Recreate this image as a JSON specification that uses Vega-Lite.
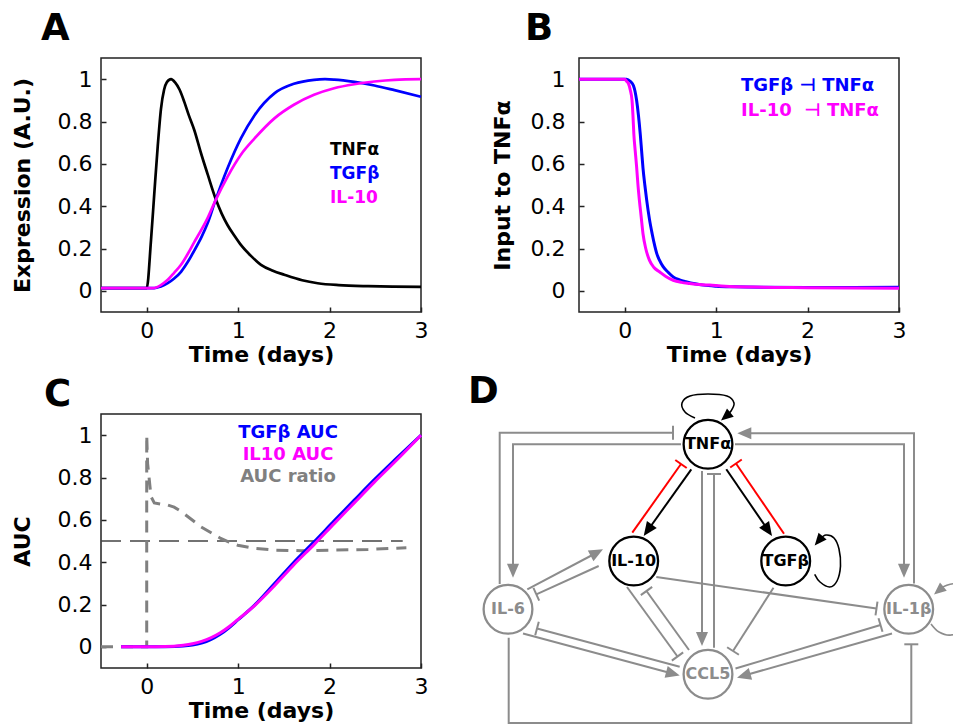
{
  "$schema": "https://vega.github.io/schema/vega-lite/v6.json",
  "background": "white",
  "padding": {"left": 10, "top": 9, "right": 0, "bottom": 0},
  "config": {
    "font": "DejaVu Sans",
    "view": {"stroke": "#222222", "strokeWidth": 1.5},
    "axis": {
      "grid": false, "domain": false,
      "labelFont": "DejaVu Sans", "labelFontSize": 22, "labelColor": "#000000",
      "titleFont": "DejaVu Sans", "titleFontSize": 22, "titleFontWeight": "bold", "titleColor": "#000000",
      "tickSize": -5, "tickColor": "#222222", "tickWidth": 1.5, "labelFlush": false
    },
    "axisX": {"labelPadding": 13, "titlePadding": 3},
    "axisY": {"labelPadding": 14, "titlePadding": 23},
    "title": {"font": "DejaVu Sans", "fontSize": 37, "fontWeight": "bold", "anchor": "start", "frame": "group", "color": "#000000"},
    "legend": {"labelFont": "DejaVu Sans", "labelFontWeight": "bold", "symbolSize": 0, "symbolStrokeWidth": 0, "symbolOpacity": 0, "labelOffset": 0, "labelLimit": 400, "padding": 0}
  },
  "datasets": {
    "expr": [
      {"t": -0.5, "v": 0.013, "s": "TNFα"}, {"t": 0, "v": 0.013, "s": "TNFα"}, {"t": 0.047, "v": 0.24, "s": "TNFα"}, {"t": 0.083, "v": 0.46, "s": "TNFα"}, {"t": 0.12, "v": 0.68, "s": "TNFα"}, {"t": 0.156, "v": 0.86, "s": "TNFα"}, {"t": 0.19, "v": 0.95, "s": "TNFα"}, {"t": 0.22, "v": 0.985, "s": "TNFα"}, {"t": 0.266, "v": 1.0, "s": "TNFα"}, {"t": 0.31, "v": 0.985, "s": "TNFα"}, {"t": 0.36, "v": 0.95, "s": "TNFα"}, {"t": 0.41, "v": 0.894, "s": "TNFα"}, {"t": 0.46, "v": 0.83, "s": "TNFα"}, {"t": 0.52, "v": 0.76, "s": "TNFα"}, {"t": 0.594, "v": 0.65, "s": "TNFα"}, {"t": 0.667, "v": 0.55, "s": "TNFα"}, {"t": 0.758, "v": 0.43, "s": "TNFα"}, {"t": 0.82, "v": 0.365, "s": "TNFα"}, {"t": 0.885, "v": 0.31, "s": "TNFα"}, {"t": 0.96, "v": 0.26, "s": "TNFα"}, {"t": 1.03, "v": 0.217, "s": "TNFα"}, {"t": 1.14, "v": 0.165, "s": "TNFα"}, {"t": 1.25, "v": 0.123, "s": "TNFα"}, {"t": 1.38, "v": 0.095, "s": "TNFα"}, {"t": 1.505, "v": 0.076, "s": "TNFα"}, {"t": 1.7, "v": 0.05, "s": "TNFα"}, {"t": 1.87, "v": 0.036, "s": "TNFα"}, {"t": 2.1, "v": 0.027, "s": "TNFα"}, {"t": 2.42, "v": 0.022, "s": "TNFα"}, {"t": 2.7, "v": 0.02, "s": "TNFα"}, {"t": 3.0, "v": 0.019, "s": "TNFα"},
      {"t": -0.5, "v": 0.013, "s": "TGFβ"}, {"t": 0.083, "v": 0.013, "s": "TGFβ"}, {"t": 0.15, "v": 0.02, "s": "TGFβ"}, {"t": 0.23, "v": 0.036, "s": "TGFβ"}, {"t": 0.3, "v": 0.058, "s": "TGFβ"}, {"t": 0.375, "v": 0.09, "s": "TGFβ"}, {"t": 0.45, "v": 0.137, "s": "TGFβ"}, {"t": 0.52, "v": 0.19, "s": "TGFβ"}, {"t": 0.6, "v": 0.255, "s": "TGFβ"}, {"t": 0.667, "v": 0.32, "s": "TGFβ"}, {"t": 0.75, "v": 0.425, "s": "TGFβ"}, {"t": 0.885, "v": 0.58, "s": "TGFβ"}, {"t": 1.03, "v": 0.72, "s": "TGFβ"}, {"t": 1.18, "v": 0.83, "s": "TGFβ"}, {"t": 1.4, "v": 0.934, "s": "TGFβ"}, {"t": 1.61, "v": 0.978, "s": "TGFβ"}, {"t": 1.83, "v": 0.997, "s": "TGFβ"}, {"t": 1.95, "v": 1.0, "s": "TGFβ"}, {"t": 2.05, "v": 0.998, "s": "TGFβ"}, {"t": 2.27, "v": 0.987, "s": "TGFβ"}, {"t": 2.49, "v": 0.97, "s": "TGFβ"}, {"t": 2.71, "v": 0.948, "s": "TGFβ"}, {"t": 3.0, "v": 0.917, "s": "TGFβ"},
      {"t": -0.5, "v": 0.013, "s": "IL-10"}, {"t": 0.07, "v": 0.013, "s": "IL-10"}, {"t": 0.15, "v": 0.026, "s": "IL-10"}, {"t": 0.23, "v": 0.052, "s": "IL-10"}, {"t": 0.3, "v": 0.085, "s": "IL-10"}, {"t": 0.375, "v": 0.123, "s": "IL-10"}, {"t": 0.45, "v": 0.175, "s": "IL-10"}, {"t": 0.52, "v": 0.23, "s": "IL-10"}, {"t": 0.6, "v": 0.29, "s": "IL-10"}, {"t": 0.667, "v": 0.345, "s": "IL-10"}, {"t": 0.75, "v": 0.425, "s": "IL-10"}, {"t": 0.885, "v": 0.54, "s": "IL-10"}, {"t": 1.03, "v": 0.643, "s": "IL-10"}, {"t": 1.18, "v": 0.72, "s": "IL-10"}, {"t": 1.4, "v": 0.816, "s": "IL-10"}, {"t": 1.61, "v": 0.879, "s": "IL-10"}, {"t": 1.83, "v": 0.926, "s": "IL-10"}, {"t": 2.05, "v": 0.957, "s": "IL-10"}, {"t": 2.27, "v": 0.976, "s": "IL-10"}, {"t": 2.49, "v": 0.989, "s": "IL-10"}, {"t": 2.71, "v": 0.997, "s": "IL-10"}, {"t": 3.0, "v": 1.0, "s": "IL-10"}
    ],
    "input": [
      {"t": -0.5, "v": 1.0, "s": "TGFβ"}, {"t": 0.02, "v": 1.0, "s": "TGFβ"}, {"t": 0.06, "v": 0.99, "s": "TGFβ"}, {"t": 0.095, "v": 0.97, "s": "TGFβ"}, {"t": 0.13, "v": 0.9, "s": "TGFβ"}, {"t": 0.15, "v": 0.83, "s": "TGFβ"}, {"t": 0.17, "v": 0.74, "s": "TGFβ"}, {"t": 0.185, "v": 0.66, "s": "TGFβ"}, {"t": 0.2, "v": 0.58, "s": "TGFβ"}, {"t": 0.22, "v": 0.5, "s": "TGFβ"}, {"t": 0.24, "v": 0.43, "s": "TGFβ"}, {"t": 0.27, "v": 0.34, "s": "TGFβ"}, {"t": 0.3, "v": 0.27, "s": "TGFβ"}, {"t": 0.33, "v": 0.21, "s": "TGFβ"}, {"t": 0.35, "v": 0.177, "s": "TGFβ"}, {"t": 0.38, "v": 0.145, "s": "TGFβ"}, {"t": 0.42, "v": 0.114, "s": "TGFβ"}, {"t": 0.47, "v": 0.09, "s": "TGFβ"}, {"t": 0.53, "v": 0.066, "s": "TGFβ"}, {"t": 0.6, "v": 0.052, "s": "TGFβ"}, {"t": 0.67, "v": 0.043, "s": "TGFβ"}, {"t": 0.77, "v": 0.033, "s": "TGFβ"}, {"t": 0.86, "v": 0.027, "s": "TGFβ"}, {"t": 1.0, "v": 0.022, "s": "TGFβ"}, {"t": 1.2, "v": 0.019, "s": "TGFβ"}, {"t": 1.5, "v": 0.017, "s": "TGFβ"}, {"t": 2.0, "v": 0.016, "s": "TGFβ"}, {"t": 2.5, "v": 0.016, "s": "TGFβ"}, {"t": 3.0, "v": 0.017, "s": "TGFβ"},
      {"t": -0.5, "v": 1.0, "s": "IL-10"}, {"t": 0.0, "v": 1.0, "s": "IL-10"}, {"t": 0.02, "v": 0.99, "s": "IL-10"}, {"t": 0.04, "v": 0.98, "s": "IL-10"}, {"t": 0.06, "v": 0.95, "s": "IL-10"}, {"t": 0.08, "v": 0.9, "s": "IL-10"}, {"t": 0.09, "v": 0.83, "s": "IL-10"}, {"t": 0.1, "v": 0.74, "s": "IL-10"}, {"t": 0.115, "v": 0.66, "s": "IL-10"}, {"t": 0.13, "v": 0.587, "s": "IL-10"}, {"t": 0.145, "v": 0.5, "s": "IL-10"}, {"t": 0.16, "v": 0.43, "s": "IL-10"}, {"t": 0.18, "v": 0.35, "s": "IL-10"}, {"t": 0.2, "v": 0.27, "s": "IL-10"}, {"t": 0.23, "v": 0.2, "s": "IL-10"}, {"t": 0.27, "v": 0.145, "s": "IL-10"}, {"t": 0.32, "v": 0.11, "s": "IL-10"}, {"t": 0.38, "v": 0.09, "s": "IL-10"}, {"t": 0.45, "v": 0.068, "s": "IL-10"}, {"t": 0.53, "v": 0.05, "s": "IL-10"}, {"t": 0.62, "v": 0.04, "s": "IL-10"}, {"t": 0.71, "v": 0.035, "s": "IL-10"}, {"t": 0.82, "v": 0.03, "s": "IL-10"}, {"t": 0.93, "v": 0.027, "s": "IL-10"}, {"t": 1.1, "v": 0.022, "s": "IL-10"}, {"t": 1.4, "v": 0.018, "s": "IL-10"}, {"t": 2.0, "v": 0.015, "s": "IL-10"}, {"t": 2.5, "v": 0.013, "s": "IL-10"}, {"t": 3.0, "v": 0.012, "s": "IL-10"}
    ],
    "auc": [
      {"t": -0.28, "v": 0, "s": "TGFβ AUC"}, {"t": 0, "v": 0, "s": "TGFβ AUC"}, {"t": 0.2, "v": 0.0005, "s": "TGFβ AUC"}, {"t": 0.4, "v": 0.004, "s": "TGFβ AUC"}, {"t": 0.5, "v": 0.009, "s": "TGFβ AUC"}, {"t": 0.6, "v": 0.018, "s": "TGFβ AUC"}, {"t": 0.7, "v": 0.034, "s": "TGFβ AUC"}, {"t": 0.8, "v": 0.058, "s": "TGFβ AUC"}, {"t": 0.9, "v": 0.09, "s": "TGFβ AUC"}, {"t": 1.0, "v": 0.128, "s": "TGFβ AUC"}, {"t": 1.18, "v": 0.197, "s": "TGFβ AUC"}, {"t": 1.4, "v": 0.3, "s": "TGFβ AUC"}, {"t": 1.61, "v": 0.4, "s": "TGFβ AUC"}, {"t": 1.83, "v": 0.496, "s": "TGFβ AUC"}, {"t": 2.05, "v": 0.595, "s": "TGFβ AUC"}, {"t": 2.27, "v": 0.693, "s": "TGFβ AUC"}, {"t": 2.49, "v": 0.79, "s": "TGFβ AUC"}, {"t": 2.71, "v": 0.882, "s": "TGFβ AUC"}, {"t": 3.0, "v": 1.0, "s": "TGFβ AUC"},
      {"t": -0.28, "v": 0, "s": "IL10 AUC"}, {"t": 0, "v": 0, "s": "IL10 AUC"}, {"t": 0.2, "v": 0.001, "s": "IL10 AUC"}, {"t": 0.4, "v": 0.008, "s": "IL10 AUC"}, {"t": 0.5, "v": 0.015, "s": "IL10 AUC"}, {"t": 0.6, "v": 0.026, "s": "IL10 AUC"}, {"t": 0.7, "v": 0.042, "s": "IL10 AUC"}, {"t": 0.8, "v": 0.065, "s": "IL10 AUC"}, {"t": 0.9, "v": 0.095, "s": "IL10 AUC"}, {"t": 1.0, "v": 0.13, "s": "IL10 AUC"}, {"t": 1.18, "v": 0.195, "s": "IL10 AUC"}, {"t": 1.4, "v": 0.29, "s": "IL10 AUC"}, {"t": 1.61, "v": 0.388, "s": "IL10 AUC"}, {"t": 1.83, "v": 0.483, "s": "IL10 AUC"}, {"t": 2.05, "v": 0.582, "s": "IL10 AUC"}, {"t": 2.27, "v": 0.68, "s": "IL10 AUC"}, {"t": 2.49, "v": 0.778, "s": "IL10 AUC"}, {"t": 2.71, "v": 0.872, "s": "IL10 AUC"}, {"t": 3.0, "v": 1.0, "s": "IL10 AUC"}
    ],
    "ratio": [
      {"t": -0.5, "v": 0, "s": "AUC ratio"}, {"t": 0, "v": 0, "s": "AUC ratio"}, {"t": 0, "v": 1.0, "s": "AUC ratio"}, {"t": 0.01, "v": 0.866, "s": "AUC ratio"}, {"t": 0.047, "v": 0.71, "s": "AUC ratio"}, {"t": 0.083, "v": 0.68, "s": "AUC ratio"}, {"t": 0.15, "v": 0.675, "s": "AUC ratio"}, {"t": 0.23, "v": 0.67, "s": "AUC ratio"}, {"t": 0.3, "v": 0.66, "s": "AUC ratio"}, {"t": 0.375, "v": 0.64, "s": "AUC ratio"}, {"t": 0.48, "v": 0.605, "s": "AUC ratio"}, {"t": 0.594, "v": 0.567, "s": "AUC ratio"}, {"t": 0.7, "v": 0.54, "s": "AUC ratio"}, {"t": 0.81, "v": 0.512, "s": "AUC ratio"}, {"t": 0.9, "v": 0.495, "s": "AUC ratio"}, {"t": 0.995, "v": 0.48, "s": "AUC ratio"}, {"t": 1.18, "v": 0.465, "s": "AUC ratio"}, {"t": 1.4, "v": 0.457, "s": "AUC ratio"}, {"t": 1.69, "v": 0.454, "s": "AUC ratio"}, {"t": 2.05, "v": 0.457, "s": "AUC ratio"}, {"t": 2.42, "v": 0.46, "s": "AUC ratio"}, {"t": 2.84, "v": 0.468, "s": "AUC ratio"}
    ],
    "half": [{"t": -0.5, "v": 0.5}, {"t": 2.8, "v": 0.5}],
    "nodes": [
      {"name": "TNFα", "x": 230, "y": 63.3, "tier": "core"},
      {"name": "IL-10", "x": 155.7, "y": 180, "tier": "core"},
      {"name": "TGFβ", "x": 307.7, "y": 180, "tier": "core"},
      {"name": "IL-6", "x": 30, "y": 228.3, "tier": "peripheral"},
      {"name": "IL-1β", "x": 430.7, "y": 228.3, "tier": "peripheral"},
      {"name": "CCL5", "x": 230, "y": 293.3, "tier": "peripheral"}
    ],
    "edges": [
      {"edge": "e1", "i": 0, "x": 21.7, "y": 203, "class": "peripheral"}, {"edge": "e1", "i": 1, "x": 21.7, "y": 51.7, "class": "peripheral"}, {"edge": "e1", "i": 2, "x": 195, "y": 51.7, "class": "peripheral"},
      {"edge": "e2", "i": 0, "x": 203, "y": 63.3, "class": "peripheral"}, {"edge": "e2", "i": 1, "x": 35, "y": 63.3, "class": "peripheral"}, {"edge": "e2", "i": 2, "x": 35, "y": 192, "class": "peripheral"},
      {"edge": "e3", "i": 0, "x": 436, "y": 202.5, "class": "peripheral"}, {"edge": "e3", "i": 1, "x": 436, "y": 52.3, "class": "peripheral"}, {"edge": "e3", "i": 2, "x": 264, "y": 52.3, "class": "peripheral"},
      {"edge": "e4", "i": 0, "x": 257, "y": 63.3, "class": "peripheral"}, {"edge": "e4", "i": 1, "x": 426, "y": 63.3, "class": "peripheral"}, {"edge": "e4", "i": 2, "x": 426, "y": 192, "class": "peripheral"},
      {"edge": "e5", "i": 0, "x": 213.3, "y": 88.3, "class": "core activation"}, {"edge": "e5", "i": 1, "x": 169, "y": 150.5, "class": "core activation"},
      {"edge": "e6", "i": 0, "x": 154.3, "y": 151.7, "class": "core inhibition"}, {"edge": "e6", "i": 1, "x": 203, "y": 83, "class": "core inhibition"},
      {"edge": "e7", "i": 0, "x": 248.3, "y": 88.3, "class": "core activation"}, {"edge": "e7", "i": 1, "x": 291, "y": 150.5, "class": "core activation"},
      {"edge": "e8", "i": 0, "x": 306, "y": 152.7, "class": "core inhibition"}, {"edge": "e8", "i": 1, "x": 258, "y": 82.5, "class": "core inhibition"},
      {"edge": "e9", "i": 0, "x": 224, "y": 90, "class": "peripheral"}, {"edge": "e9", "i": 1, "x": 224, "y": 260, "class": "peripheral"},
      {"edge": "e10", "i": 0, "x": 236, "y": 266.7, "class": "peripheral"}, {"edge": "e10", "i": 1, "x": 236, "y": 93, "class": "peripheral"},
      {"edge": "e11", "i": 0, "x": 49.3, "y": 208.3, "class": "peripheral"}, {"edge": "e11", "i": 1, "x": 120, "y": 171, "class": "peripheral"},
      {"edge": "e12", "i": 0, "x": 120.7, "y": 185, "class": "peripheral"}, {"edge": "e12", "i": 1, "x": 58.3, "y": 213.3, "class": "peripheral"},
      {"edge": "e13", "i": 0, "x": 45, "y": 252.5, "class": "peripheral"}, {"edge": "e13", "i": 1, "x": 196, "y": 293, "class": "peripheral"},
      {"edge": "e14", "i": 0, "x": 201.7, "y": 285.8, "class": "peripheral"}, {"edge": "e14", "i": 1, "x": 59, "y": 247.5, "class": "peripheral"},
      {"edge": "e15", "i": 0, "x": 149, "y": 206, "class": "peripheral"}, {"edge": "e15", "i": 1, "x": 199.5, "y": 275.5, "class": "peripheral"},
      {"edge": "e16", "i": 0, "x": 211, "y": 269, "class": "peripheral"}, {"edge": "e16", "i": 1, "x": 168.5, "y": 210, "class": "peripheral"},
      {"edge": "e17", "i": 0, "x": 178.3, "y": 196, "class": "peripheral"}, {"edge": "e17", "i": 1, "x": 398.5, "y": 227.5, "class": "peripheral"},
      {"edge": "e18", "i": 0, "x": 295.5, "y": 206.7, "class": "peripheral"}, {"edge": "e18", "i": 1, "x": 255, "y": 270, "class": "peripheral"},
      {"edge": "e19", "i": 0, "x": 257.5, "y": 287.5, "class": "peripheral"}, {"edge": "e19", "i": 1, "x": 402.5, "y": 244, "class": "peripheral"},
      {"edge": "e20", "i": 0, "x": 414, "y": 252.5, "class": "peripheral"}, {"edge": "e20", "i": 1, "x": 264.5, "y": 295, "class": "peripheral"},
      {"edge": "e21", "i": 0, "x": 30.7, "y": 256.7, "class": "peripheral"}, {"edge": "e21", "i": 1, "x": 30.7, "y": 342, "class": "peripheral"}, {"edge": "e21", "i": 2, "x": 433.3, "y": 342, "class": "peripheral"}, {"edge": "e21", "i": 3, "x": 433.3, "y": 263.3, "class": "peripheral"}
    ],
    "loops": [
      {"edge": "L1", "i": 0, "x": 217, "y": 37, "class": "core activation"}, {"edge": "L1", "i": 1, "x": 207, "y": 31, "class": "core activation"}, {"edge": "L1", "i": 2, "x": 204, "y": 22, "class": "core activation"}, {"edge": "L1", "i": 3, "x": 212, "y": 15, "class": "core activation"}, {"edge": "L1", "i": 4, "x": 230, "y": 13, "class": "core activation"}, {"edge": "L1", "i": 5, "x": 249, "y": 15, "class": "core activation"}, {"edge": "L1", "i": 6, "x": 256, "y": 22, "class": "core activation"}, {"edge": "L1", "i": 7, "x": 253, "y": 30, "class": "core activation"}, {"edge": "L1", "i": 8, "x": 248, "y": 35, "class": "core activation"},
      {"edge": "L2", "i": 0, "x": 336.7, "y": 193.3, "class": "core activation"}, {"edge": "L2", "i": 1, "x": 342, "y": 201, "class": "core activation"}, {"edge": "L2", "i": 2, "x": 351.7, "y": 206, "class": "core activation"}, {"edge": "L2", "i": 3, "x": 359, "y": 200, "class": "core activation"}, {"edge": "L2", "i": 4, "x": 362.5, "y": 185, "class": "core activation"}, {"edge": "L2", "i": 5, "x": 361, "y": 168, "class": "core activation"}, {"edge": "L2", "i": 6, "x": 356, "y": 157, "class": "core activation"}, {"edge": "L2", "i": 7, "x": 348, "y": 154, "class": "core activation"}, {"edge": "L2", "i": 8, "x": 342, "y": 158, "class": "core activation"},
      {"edge": "L3", "i": 0, "x": 453, "y": 243, "class": "peripheral"}, {"edge": "L3", "i": 1, "x": 461, "y": 251, "class": "peripheral"}, {"edge": "L3", "i": 2, "x": 473, "y": 254, "class": "peripheral"}, {"edge": "L3", "i": 3, "x": 488, "y": 246, "class": "peripheral"}, {"edge": "L3", "i": 4, "x": 494, "y": 229, "class": "peripheral"}, {"edge": "L3", "i": 5, "x": 490, "y": 212, "class": "peripheral"}, {"edge": "L3", "i": 6, "x": 478, "y": 203, "class": "peripheral"}, {"edge": "L3", "i": 7, "x": 467, "y": 205, "class": "peripheral"}, {"edge": "L3", "i": 8, "x": 462, "y": 208, "class": "peripheral"}
    ],
    "arrows": [
      {"x": 35, "y": 196.7, "angle": 180, "class": "peripheral"},
      {"x": 259.3, "y": 52.3, "angle": 270, "class": "peripheral"},
      {"x": 426, "y": 196.7, "angle": 180, "class": "peripheral"},
      {"x": 165.7, "y": 155, "angle": 215.5, "class": "core activation"},
      {"x": 294, "y": 155, "angle": 145.6, "class": "core activation"},
      {"x": 224, "y": 265, "angle": 180, "class": "peripheral"},
      {"x": 125, "y": 168.3, "angle": 62, "class": "peripheral"},
      {"x": 201.7, "y": 294.5, "angle": 105, "class": "peripheral"},
      {"x": 259, "y": 296.7, "angle": 254, "class": "peripheral"}
    ],
    "looparrows": [
      {"x": 243, "y": 39.5, "angle": 230, "class": "core activation"},
      {"x": 336.7, "y": 164.5, "angle": 220, "class": "core activation"},
      {"x": 456, "y": 213.5, "angle": 230, "class": "peripheral"}
    ],
    "tbars": [
      {"x": 195, "y": 51.7, "angle": 90, "class": "peripheral"},
      {"x": 203, "y": 83, "angle": 35.3, "class": "core inhibition"},
      {"x": 258, "y": 82.5, "angle": 325.6, "class": "core inhibition"},
      {"x": 236, "y": 93, "angle": 0, "class": "peripheral"},
      {"x": 58.3, "y": 213.3, "angle": 245.6, "class": "peripheral"},
      {"x": 59, "y": 247.5, "angle": 285, "class": "peripheral"},
      {"x": 199.5, "y": 275.5, "angle": 144, "class": "peripheral"},
      {"x": 168.5, "y": 210, "angle": 324.2, "class": "peripheral"},
      {"x": 398.5, "y": 227.5, "angle": 98.1, "class": "peripheral"},
      {"x": 255, "y": 270, "angle": 212.6, "class": "peripheral"},
      {"x": 402.5, "y": 244, "angle": 73.3, "class": "peripheral"},
      {"x": 433.3, "y": 263.3, "angle": 0, "class": "peripheral"}
    ]
  },
  "spacing": 6,
  "resolve": {"scale": {"color": "independent"}, "legend": {"color": "independent"}},
  "vconcat": [
    {
      "spacing": 61,
      "resolve": {"scale": {"color": "independent"}, "legend": {"color": "independent"}},
      "hconcat": [
        {
          "width": 320, "height": 254,
          "title": {"text": "A", "dx": -60, "offset": 10},
          "data": {"name": "expr"},
          "mark": {"type": "line", "interpolate": "monotone", "strokeWidth": 2.7},
          "encoding": {
            "x": {"field": "t", "type": "quantitative", "scale": {"domain": [-0.5, 3], "nice": false, "zero": false}, "axis": {"title": "Time (days)", "values": [0, 1, 2, 3], "format": "~g"}},
            "y": {"field": "v", "type": "quantitative", "scale": {"domain": [-0.1, 1.1], "nice": false, "zero": false}, "axis": {"title": "Expression (A.U.)", "values": [0, 0.2, 0.4, 0.6, 0.8, 1], "format": "~g"}},
            "color": {"field": "s", "type": "nominal", "scale": {"domain": ["TNFα", "TGFβ", "IL-10"], "range": ["#000000", "#0000ff", "#ff00ff"]},
              "legend": {"orient": "none", "legendX": 212, "legendY": 83, "title": null, "labelFontSize": 17, "rowPadding": 6,
                "labelColor": {"expr": "datum.value === 'TNFα' ? '#000000' : datum.value === 'TGFβ' ? '#0000ff' : '#ff00ff'"}}}
          }
        },
        {
          "width": 320, "height": 254,
          "title": {"text": "B", "dx": -54, "offset": 10},
          "data": {"name": "input"},
          "mark": {"type": "line", "interpolate": "monotone", "strokeWidth": 3},
          "encoding": {
            "x": {"field": "t", "type": "quantitative", "scale": {"domain": [-0.5, 3], "nice": false, "zero": false}, "axis": {"title": "Time (days)", "values": [0, 1, 2, 3], "format": "~g"}},
            "y": {"field": "v", "type": "quantitative", "scale": {"domain": [-0.1, 1.1], "nice": false, "zero": false}, "axis": {"title": "Input to TNFα", "values": [0, 0.2, 0.4, 0.6, 0.8, 1], "format": "~g", "labelPadding": 19, "titlePadding": 16}},
            "color": {"field": "s", "type": "nominal", "scale": {"domain": ["TGFβ", "IL-10"], "range": ["#0000ff", "#ff00ff"]},
              "legend": {"orient": "none", "legendX": 144, "legendY": 19, "title": null, "labelFontSize": 18, "rowPadding": 7,
                "labelExpr": "datum.label === 'TGFβ' ? 'TGFβ ⊣ TNFα' : 'IL-10\u00a0 ⊣ TNFα'",
                "labelColor": {"expr": "datum.value === 'TGFβ' ? '#0000ff' : '#ff00ff'"}}}
          }
        }
      ]
    },
    {
      "spacing": 39,
      "resolve": {"scale": {"color": "independent"}, "legend": {"color": "independent"}},
      "hconcat": [
        {
          "width": 320, "height": 254,
          "title": {"text": "C", "dx": -57, "offset": 0},
          "encoding": {
            "x": {"field": "t", "type": "quantitative", "scale": {"domain": [-0.5, 3], "nice": false, "zero": false}, "axis": {"title": "Time (days)", "values": [0, 1, 2, 3], "format": "~g"}},
            "y": {"field": "v", "type": "quantitative", "scale": {"domain": [-0.1, 1.1], "nice": false, "zero": false}, "axis": {"title": "AUC", "values": [0, 0.2, 0.4, 0.6, 0.8, 1], "format": "~g"}}
          },
          "layer": [
            {
              "data": {"name": "half"},
              "mark": {"type": "line", "color": "#444444", "strokeWidth": 1.5, "strokeDash": [20, 9]}
            },
            {
              "data": {"name": "ratio"},
              "mark": {"type": "line", "strokeWidth": 3, "strokeDash": [12, 8]},
              "encoding": {
                "order": [{"field": "t", "type": "quantitative"}, {"field": "v", "type": "quantitative"}],
                "color": {"field": "s", "type": "nominal", "scale": {"domain": ["TGFβ AUC", "IL10 AUC", "AUC ratio"], "range": ["#0000ff", "#ff00ff", "#808080"]},
                  "legend": {"orient": "none", "legendX": 169, "legendY": 9.6, "title": null, "labelFontSize": 18, "rowPadding": 4, "labelAlign": "center",
                    "labelColor": {"expr": "datum.value === 'TGFβ AUC' ? '#0000ff' : datum.value === 'IL10 AUC' ? '#ff00ff' : '#808080'"}}}
              }
            },
            {
              "data": {"name": "auc"},
              "mark": {"type": "line", "interpolate": "monotone", "strokeWidth": 3},
              "encoding": {
                "color": {"field": "s", "type": "nominal", "scale": {"domain": ["TGFβ AUC", "IL10 AUC", "AUC ratio"], "range": ["#0000ff", "#ff00ff", "#808080"]}}
              }
            }
          ]
        },
        {
          "width": 475, "height": 312,
          "title": {"text": "D", "dx": -10, "offset": -20},
          "view": {"stroke": null},
          "encoding": {
            "x": {"field": "x", "type": "quantitative", "scale": {"domain": [0, 475], "nice": false, "zero": false}, "axis": null},
            "y": {"field": "y", "type": "quantitative", "scale": {"domain": [33, 345], "reverse": true, "nice": false, "zero": false}, "axis": null}
          },
          "layer": [
            {
              "data": {"name": "edges"},
              "mark": {"type": "line", "strokeWidth": 2},
              "encoding": {
                "detail": {"field": "edge", "type": "nominal"},
                "order": {"field": "i", "type": "quantitative"},
                "color": {"field": "class", "type": "nominal", "legend": null, "scale": {"domain": ["core activation", "core inhibition", "core", "peripheral"], "range": ["#000000", "#ff0000", "#000000", "#8c8c8c"]}}
              }
            },
            {
              "data": {"name": "loops"},
              "transform": [{"filter": "datum.edge !== 'L3'"}],
              "mark": {"type": "line", "strokeWidth": 1.6, "interpolate": "cardinal"},
              "encoding": {
                "detail": {"field": "edge", "type": "nominal"},
                "order": {"field": "i", "type": "quantitative"},
                "color": {"field": "class", "type": "nominal", "legend": null, "scale": {"domain": ["core activation", "core inhibition", "core", "peripheral"], "range": ["#000000", "#ff0000", "#000000", "#8c8c8c"]}}
              }
            },
            {
              "data": {"name": "loops"},
              "transform": [{"filter": "datum.edge === 'L3'"}],
              "mark": {"type": "line", "strokeWidth": 1.6, "interpolate": "cardinal", "clip": true},
              "encoding": {
                "detail": {"field": "edge", "type": "nominal"},
                "order": {"field": "i", "type": "quantitative"},
                "color": {"field": "class", "type": "nominal", "legend": null, "scale": {"domain": ["core activation", "core inhibition", "core", "peripheral"], "range": ["#000000", "#ff0000", "#000000", "#8c8c8c"]}}
              }
            },
            {
              "data": {"name": "nodes"},
              "mark": {"type": "point", "shape": "circle", "size": 2376, "filled": true, "fill": "#ffffff", "strokeWidth": 2.3, "opacity": 1},
              "encoding": {
                "stroke": {"field": "tier", "type": "nominal", "legend": null, "scale": {"domain": ["core", "peripheral"], "range": ["#000000", "#8c8c8c"]}}
              }
            },
            {
              "data": {"name": "nodes"},
              "mark": {"type": "text", "font": "DejaVu Sans", "fontSize": 16, "fontWeight": "bold", "align": "center", "baseline": "middle"},
              "encoding": {
                "text": {"field": "name", "type": "nominal"},
                "color": {"field": "tier", "type": "nominal", "legend": null, "scale": {"domain": ["core activation", "core inhibition", "core", "peripheral"], "range": ["#000000", "#ff0000", "#000000", "#8c8c8c"]}}
              }
            },
            {
              "data": {"name": "arrows"},
              "mark": {"type": "point", "shape": "M0,0L0.43,1L-0.43,1Z", "size": 784, "filled": true, "opacity": 1, "strokeWidth": 0},
              "encoding": {
                "angle": {"field": "angle", "type": "quantitative", "scale": null},
                "color": {"field": "class", "type": "nominal", "legend": null, "scale": {"domain": ["core activation", "core inhibition", "core", "peripheral"], "range": ["#000000", "#ff0000", "#000000", "#8c8c8c"]}}
              }
            },
            {
              "data": {"name": "looparrows"},
              "mark": {"type": "point", "shape": "M0,0L0.43,1L-0.43,1Z", "size": 600, "filled": true, "opacity": 1, "strokeWidth": 0},
              "encoding": {
                "angle": {"field": "angle", "type": "quantitative", "scale": null},
                "color": {"field": "class", "type": "nominal", "legend": null, "scale": {"domain": ["core activation", "core inhibition", "core", "peripheral"], "range": ["#000000", "#ff0000", "#000000", "#8c8c8c"]}}
              }
            },
            {
              "data": {"name": "tbars"},
              "mark": {"type": "point", "shape": "M-1,0L1,0", "size": 196, "filled": false, "opacity": 1, "strokeWidth": 2},
              "encoding": {
                "angle": {"field": "angle", "type": "quantitative", "scale": null},
                "color": {"field": "class", "type": "nominal", "legend": null, "scale": {"domain": ["core activation", "core inhibition", "core", "peripheral"], "range": ["#000000", "#ff0000", "#000000", "#8c8c8c"]}}
              }
            }
          ]
        }
      ]
    }
  ]
}
